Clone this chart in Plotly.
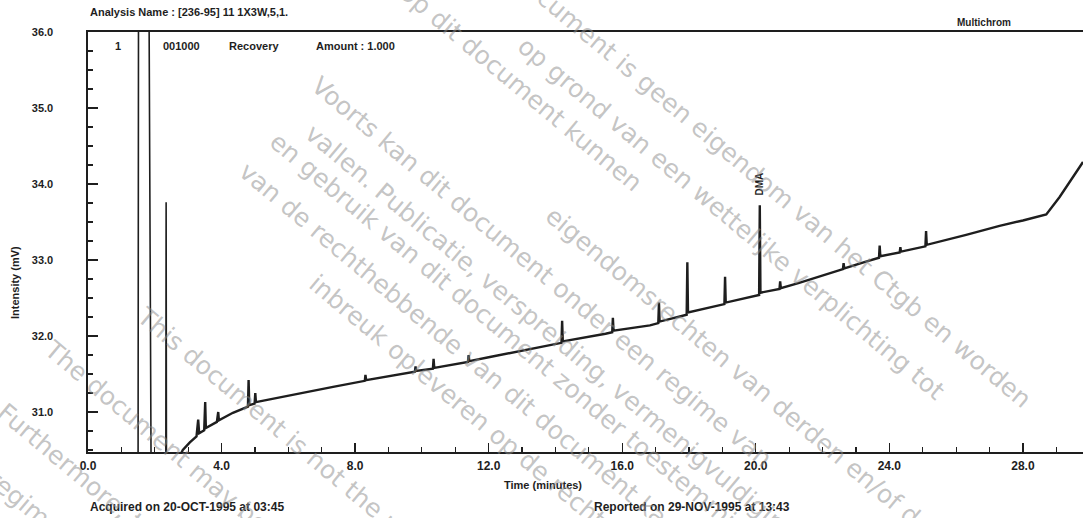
import math
import plotly.graph_objects as go

# ---------------- data ----------------
# early part of the run (solvent / off-scale peaks), minutes and mV
early_time = [0.0, 1.50, 1.53, 1.74, 1.89, 2.33, 2.34, 2.35, 2.60]
early_mv = [30.2, 30.2, 45.0, 45.0, 30.2, 30.2, 33.76, 30.2, 30.2]

# main chromatogram trace
main_time = [2.60, 2.84, 3.05, 3.25, 3.30, 3.33, 3.48, 3.51, 3.53, 3.86, 3.90, 3.92,
             4.34, 4.79, 4.81, 4.83, 4.99, 5.01, 5.03, 5.36, 6.35, 7.34, 8.29, 8.31,
             8.33, 9.34, 9.79, 9.81, 9.83, 10.33, 10.35, 10.37, 11.38, 11.40, 11.42,
             12.0, 13.2, 14.18, 14.20, 14.22, 15.5, 15.70, 15.72, 15.74, 16.83, 17.08,
             17.10, 17.12, 17.93, 17.95, 17.97, 19.06, 19.08, 19.10, 20.10, 20.12,
             20.14, 20.71, 20.73, 20.75, 21.3, 22.3, 22.61, 22.63, 22.65, 23.3, 23.69,
             23.71, 23.73, 24.31, 24.33, 24.35, 25.08, 25.10, 25.12, 26.3, 27.3, 28.0,
             28.7, 29.1, 29.3, 29.55, 29.8]
main_mv = [30.30, 30.50, 30.60, 30.68, 30.90, 30.72, 30.76, 31.13, 30.79, 30.87, 31.00, 30.89,
           30.99, 31.07, 31.42, 31.09, 31.11, 31.25, 31.13, 31.16, 31.25, 31.33, 31.41, 31.49,
           31.42, 31.49, 31.53, 31.60, 31.54, 31.57, 31.70, 31.58, 31.66, 31.75, 31.67,
           31.72, 31.83, 31.91, 32.20, 31.93, 32.03, 32.05, 32.24, 32.07, 32.14, 32.17,
           32.44, 32.19, 32.28, 32.97, 32.31, 32.42, 32.78, 32.44, 32.54, 33.72,
           32.57, 32.62, 32.72, 32.63, 32.70, 32.84, 32.88, 32.96, 32.89, 32.98, 33.03,
           33.19, 33.05, 33.10, 33.17, 33.11, 33.18, 33.38, 33.20, 33.33, 33.45, 33.52,
           33.60, 33.83, 33.96, 34.12, 34.29]

x_tick_vals = [0, 4, 8, 12, 16, 20, 24, 28]
x_tick_text = ["0.0", "4.0", "8.0", "12.0", "16.0", "20.0", "24.0", "28.0"]
y_tick_vals = [31, 32, 33, 34, 35, 36]
y_tick_text = ["31.0", "32.0", "33.0", "34.0", "35.0", "36.0"]

peak_label = "DMA"
peak_label_time = 20.12

watermark_lines = [
    "Dit document is geen eigendom van het Ctgb en worden",
    "op grond van een wettelijke verplichting tot",
    "Op dit document kunnen",
    "eigendomsrechten van derden en/of de rechthebbende rusten",
    "Voorts kan dit document onder een regime van",
    "vallen. Publicatie, verspreiding, vermenigvuldiging",
    "en gebruik van dit document zonder toestemming",
    "van de rechthebbende van dit document kan een",
    "inbreuk opleveren op de rechten van de",
    "This document is not the property of Ctgb",
    "The document may be subject to rights",
    "Furthermore, this document may",
    "regime",
]
# start points (pixels) of each watermark line
watermark_starts = [(497, -43), (512, 35), (410, -5), (565, 225), (322, 88), (298, 120),
                    (286, 148), (256, 178), (316, 283), (138, 310), (53, 350), (10, 416),
                    (-5, 478)]

# ---------------- layout geometry ----------------
W, H = 1083, 518
ML, MR, MT, MB = 88, 0, 32, 66
PW, PH = W - ML - MR, H - MT - MB
X_RANGE = [0, 29.8]
Y_RANGE = [30.474, 36.0]

NARROW = "Liberation Sans Narrow, Arial Narrow, Liberation Sans, Arial, sans-serif"
INK = "#1e1e1e"


def px(xp):
    return (xp - ML) / PW


def py(yp):
    return (MT + PH - yp) / PH


fig = go.Figure()
fig.add_trace(go.Scatter(x=early_time, y=early_mv, mode="lines",
                         line=dict(color=INK, width=1.6), hoverinfo="skip",
                         showlegend=False))
fig.add_trace(go.Scatter(x=main_time, y=main_mv, mode="lines",
                         line=dict(color=INK, width=2.4, shape="linear"),
                         showlegend=False))

fig.update_xaxes(range=X_RANGE, tickvals=x_tick_vals, ticktext=x_tick_text,
                 ticks="inside", ticklen=9, tickwidth=1.4, tickcolor=INK,
                 minor=dict(dtick=1, ticks="inside", ticklen=5, tickwidth=1.2, tickcolor=INK),
                 showline=True, linecolor=INK, linewidth=1.8, mirror=True,
                 showgrid=False, zeroline=False, ticklabelstandoff=2, automargin=False,
                 tickfont=dict(family=NARROW, size=12, color=INK, weight="bold"))
fig.update_yaxes(range=Y_RANGE, tickvals=y_tick_vals, ticktext=y_tick_text,
                 ticks="inside", ticklen=10, tickwidth=1.4, tickcolor=INK,
                 minor=dict(dtick=0.25, ticks="inside", ticklen=5, tickwidth=1.2, tickcolor=INK),
                 showline=True, linecolor=INK, linewidth=1.6,
                 showgrid=False, zeroline=False, ticklabelstandoff=31, automargin=False,
                 tickfont=dict(family=NARROW, size=11, color=INK, weight="bold"))

ann = []


def txt(s, x, y, size=12, xanchor="left", angle=0, yanchor="middle"):
    ann.append(dict(text=s, x=px(x), y=py(y), xref="paper", yref="paper",
                    xanchor=xanchor, yanchor=yanchor, showarrow=False, textangle=angle,
                    font=dict(family=NARROW, size=size, color=INK, weight="bold")))


txt("Analysis Name : [236-95] 11 1X3W,5,1.", 88, 12, 11)
txt("Multichrom", 955, 22, 10)
txt("1", 118, 46, 11, xanchor="center")
txt("001000", 161, 46, 11)
txt("Recovery", 227, 46, 11)
txt("Amount : 1.000", 314, 46, 11)
txt("Time (minutes)", 543, 485, 11, xanchor="center")
txt("Intensity (mV)", 15, 283, 11, xanchor="center", angle=-90)
txt("Acquired on 20-OCT-1995 at 03:45", 88, 507, 12)
txt("Reported on 29-NOV-1995 at 13:43", 592, 507, 12)

# peak label, placed above the DMA peak through the data scale
ann.append(dict(text=peak_label, x=peak_label_time, y=33.72, xref="x", yref="y",
                xanchor="center", yanchor="bottom", yshift=8, showarrow=False,
                textangle=-90,
                font=dict(family=NARROW, size=10, color=INK, weight="bold")))

# watermark
WM_SIZE = 25
ANG = 40
cw = 0.52 * WM_SIZE
ca, sa = math.cos(math.radians(ANG)), math.sin(math.radians(ANG))
for line, (sx, sy) in zip(watermark_lines, watermark_starts):
    half = len(line) * cw / 2
    cx, cy = sx + half * ca, sy + half * sa
    ann.append(dict(text=line, x=px(cx), y=py(cy), xref="paper", yref="paper",
                    xanchor="center", yanchor="middle", showarrow=False, textangle=ANG,
                    font=dict(family="DejaVu Sans, Verdana, sans-serif", size=WM_SIZE,
                              color="rgba(140,140,140,0.52)")))

fig.update_layout(width=W, height=H, margin=dict(l=ML, r=MR, t=MT, b=MB, pad=0),
                  paper_bgcolor="white", plot_bgcolor="white", annotations=ann,
                  showlegend=False, hovermode=False)

fig.write_html("out.html", config={"displayModeBar": False, "staticPlot": True},
               post_script="document.body.style.margin='0';document.body.style.overflow='hidden';")
